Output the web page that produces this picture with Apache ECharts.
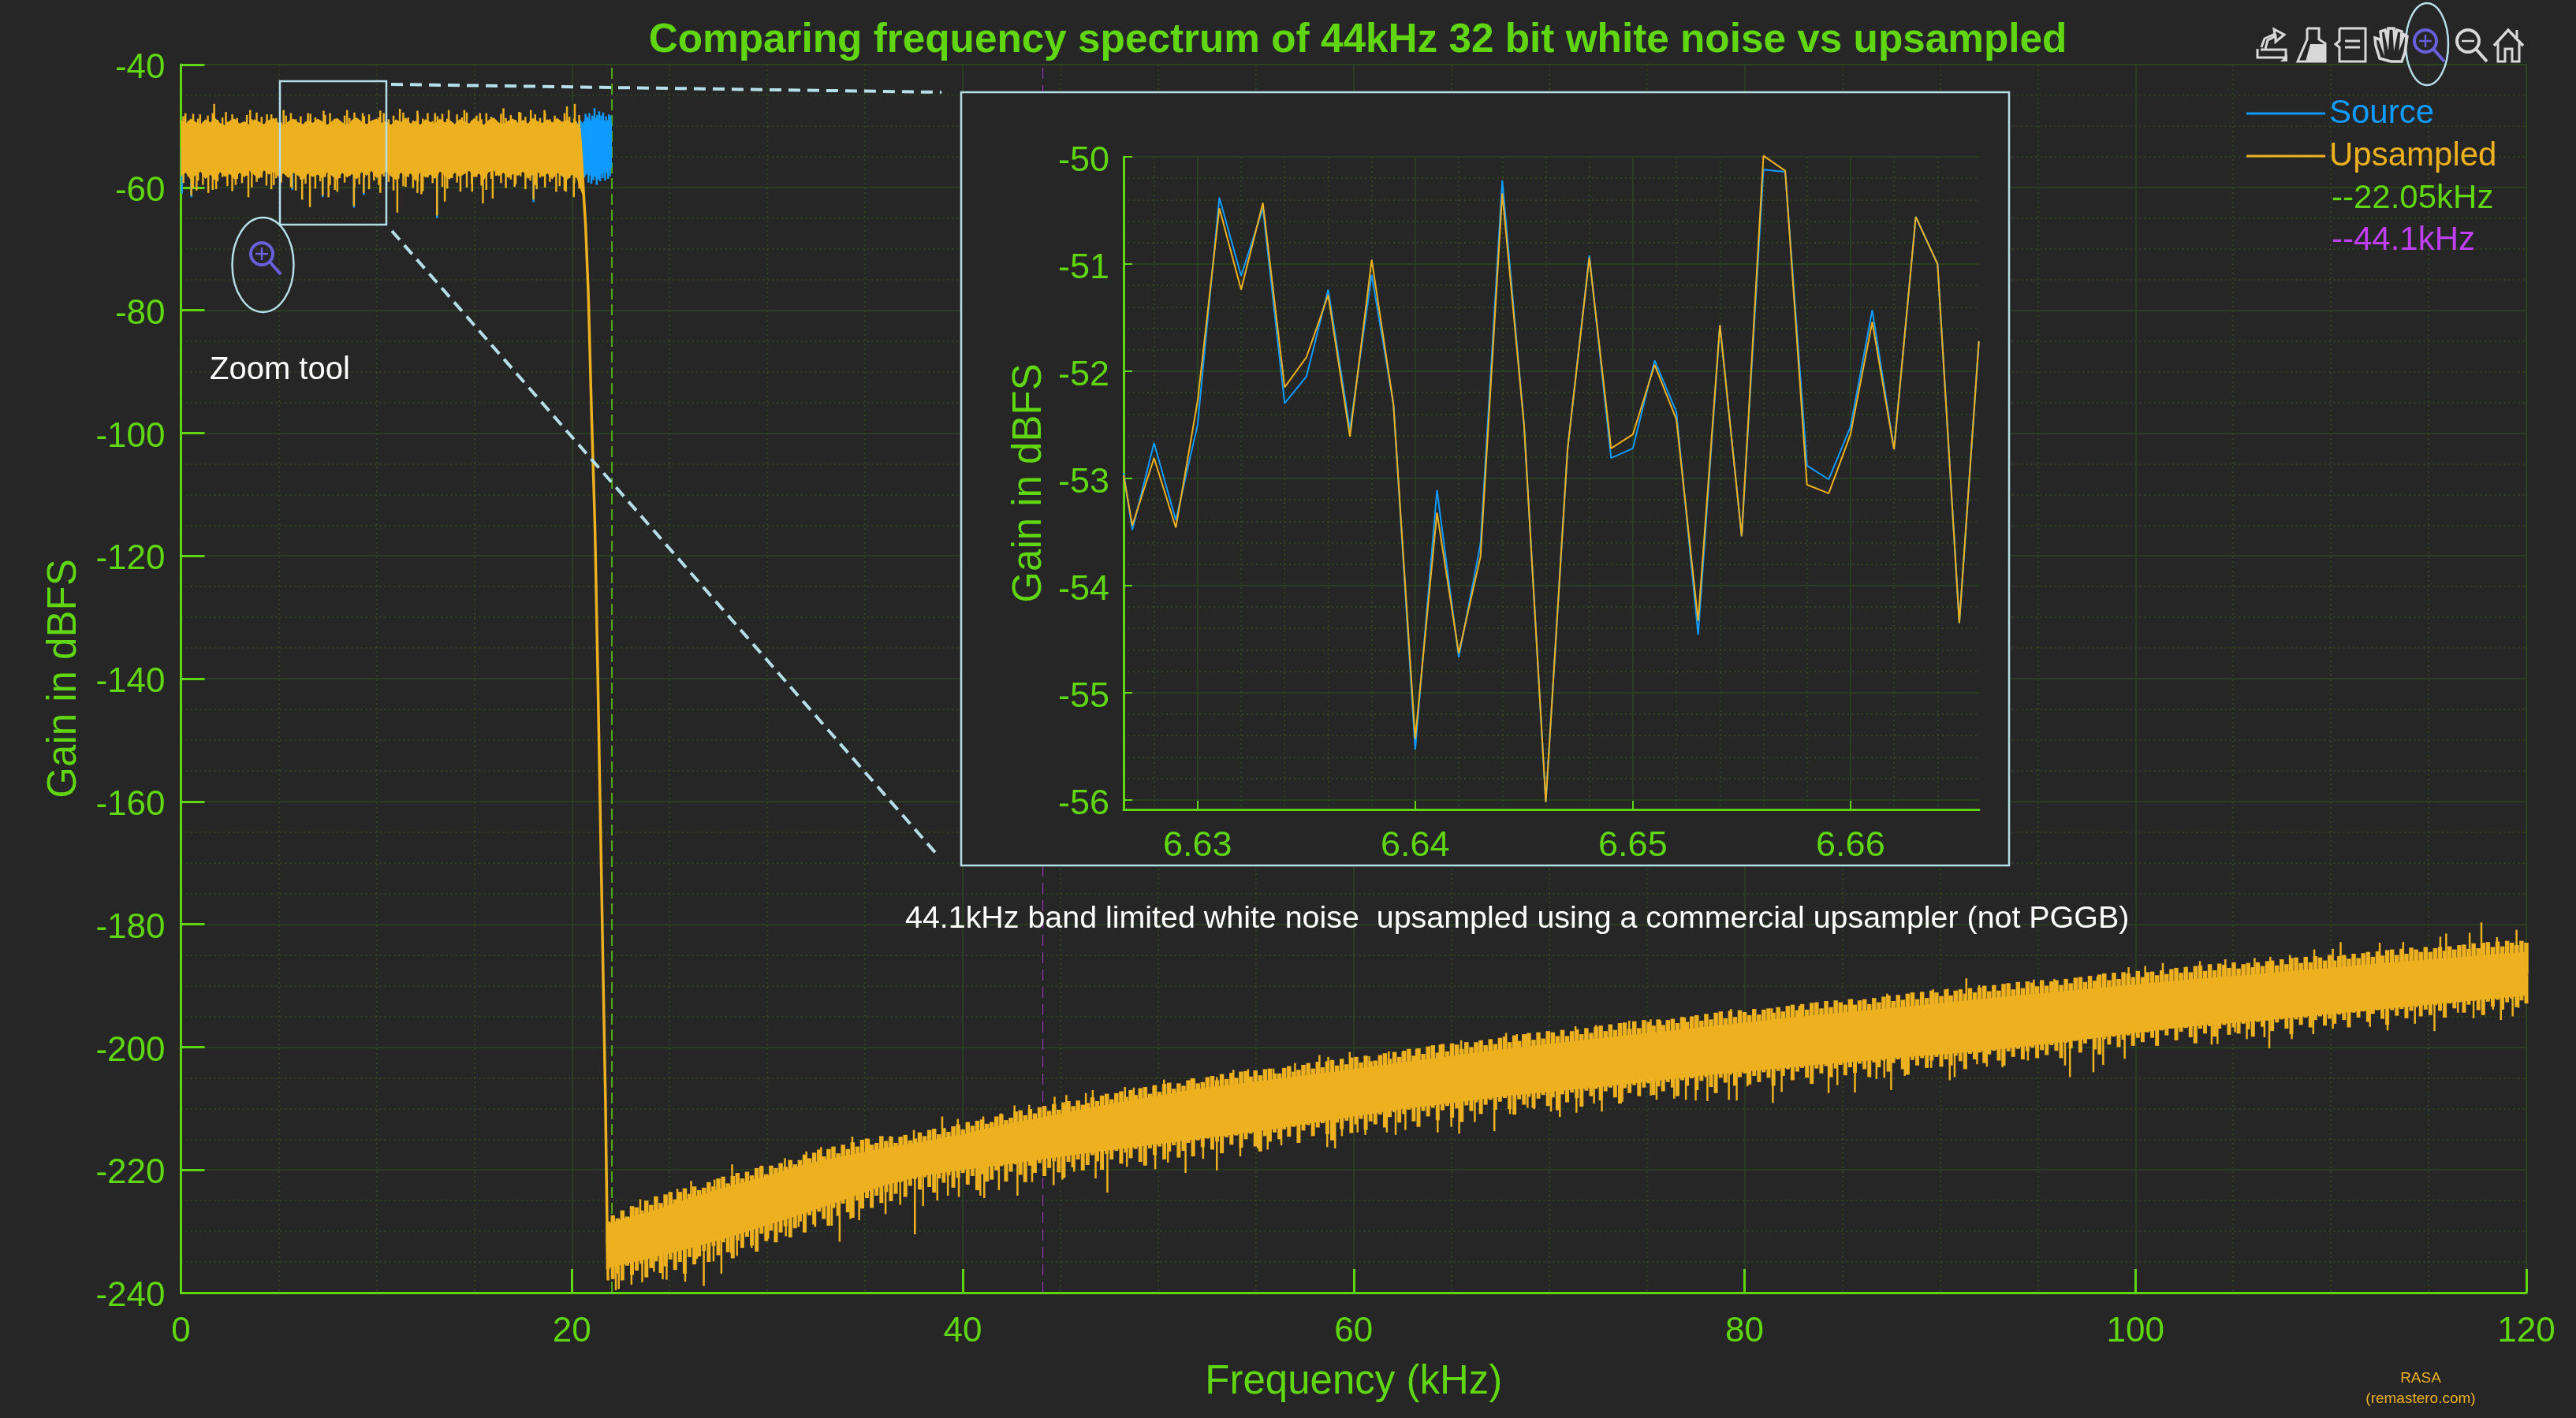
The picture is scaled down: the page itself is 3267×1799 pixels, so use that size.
<!DOCTYPE html>
<html>
<head>
<meta charset="utf-8">
<title>Frequency spectrum</title>
<script src="https://cdn.jsdelivr.net/npm/echarts@6/dist/echarts.min.js"></script>
<style>
html, body { margin: 0; padding: 0; background: #262626; }
#chart { width: 3267px; height: 1799px; }
</style>
</head>
<body>
<div id="chart"></div>
<script>
// flat part of the upsampled noise, edge every 0.25 kHz from 0 kHz
const flatTop = [-49.0,-49.6,-48.8,-49.3,-49.8,-48.9,-49.4,-48.7,-49.5,-49.9,-49.1,-48.8,-49.6,-49.2,-49.8,-48.9,-49.3,-49.7,-49.0,-48.7,-49.5,-49.9,-49.2,-48.8,-49.4,-49.7,-49.0,-49.5,-48.8,-49.3,-49.8,-49.1,-48.7,-49.4,-49.9,-49.0,-48.6,-49.3,-49.7,-49.1,-48.8,-49.5,-49.2,-49.8,-48.9,-49.4,-48.6,-49.6,-49.1,-49.8,-48.9,-49.3,-49.6,-48.8,-49.4,-49.0,-49.7,-48.9,-49.2,-49.6,-48.7,-49.3,-49.8,-49.0,-48.6,-49.4,-49.7,-49.1,-48.8,-49.5,-49.0,-49.6,-48.7,-49.2,-49.5,-48.9,-49.4,-48.7,-49.3,-49.0,-49.5,-49.2];
const flatBottom = [-58.2,-57.6,-58.8,-58.0,-57.4,-58.6,-57.9,-58.9,-57.5,-58.3,-57.8,-58.7,-57.6,-58.4,-57.3,-58.0,-58.6,-57.2,-57.9,-57.4,-58.3,-57.7,-58.5,-57.6,-58.1,-58.8,-57.7,-58.3,-57.9,-58.6,-57.5,-58.2,-58.9,-57.6,-58.4,-57.8,-58.7,-57.5,-58.1,-57.3,-58.5,-57.9,-57.4,-58.2,-58.8,-57.6,-58.3,-57.7,-59.0,-57.5,-58.4,-57.9,-58.6,-57.4,-58.1,-58.7,-57.6,-58.3,-57.8,-57.3,-58.4,-57.7,-58.8,-57.5,-57.2,-58.2,-57.6,-58.5,-57.8,-58.1,-57.4,-58.6,-57.9,-57.5,-58.3,-57.7,-58.7,-57.6,-58.2,-58.8,-57.9,-58.5];
// fine teeth between those edge points, offset by 0.125 kHz
const flatFineTop = [-48.4,-49.2,-48.0,-48.8,-49.4,-48.3,-47.9,-49.0,-48.6,-49.3,-48.1,-48.7,-49.5,-48.2,-48.9,-47.8,-48.5,-49.2,-48.1,-48.7,-49.4,-48.3,-47.9,-48.9,-48.4,-49.3,-48.0,-48.6,-49.1,-48.2,-47.9,-48.8,-49.4,-48.3,-48.7,-47.8,-49.0,-48.4,-48.1,-49.2,-48.6,-47.9,-48.9,-48.3,-49.3,-47.8,-48.6,-49.1,-48.2,-48.8,-47.9,-49.2,-48.4,-48.0,-48.8,-49.4,-48.1,-48.6,-47.8,-49.1,-48.3,-48.9,-47.9,-48.5,-49.3,-48.0,-48.7,-48.2,-49.0,-47.8,-48.5,-49.2,-48.1,-48.7,-47.9,-48.9,-48.3,-49.1,-47.9,-48.5,-48.8,-48.2];
const flatFineBottom = [-59.3,-58.2,-60.1,-58.9,-59.6,-58.4,-60.4,-59.0,-58.3,-59.8,-60.6,-58.6,-59.3,-58.1,-60.0,-59.1,-58.4,-59.7,-60.3,-58.5,-59.2,-58.0,-59.9,-60.5,-58.7,-59.4,-58.2,-60.2,-59.0,-58.3,-59.6,-60.4,-58.5,-59.2,-58.1,-60.0,-59.5,-58.4,-60.3,-58.9,-59.6,-58.2,-59.1,-60.5,-58.6,-59.8,-58.3,-60.1,-59.0,-60.6,-58.4,-59.3,-58.1,-59.9,-60.2,-58.5,-59.2,-58.0,-60.0,-59.4,-58.3,-59.7,-60.4,-58.6,-58.1,-59.3,-60.1,-58.7,-59.5,-58.2,-60.3,-58.9,-59.6,-58.4,-60.0,-59.1,-58.2,-59.8,-60.5,-58.5,-59.3,-60.2];
const flatUpFreq = [0.23,0.98,1.7,2.3,3.54,4.4,5.25,6.5,7.3,8.5,9.3,10.2,11.2,12.1,13,13.7,14.5,15.3,16.5,17.3,17.9,18.6,19.75,20.15];
const flatUpTip = [-47.9,-48.1,-46.4,-47.7,-47.4,-48.1,-47.4,-47.9,-47.5,-47.4,-47.9,-47.5,-47.2,-47.5,-47.9,-47.4,-47.4,-47.9,-47.1,-47.7,-47.4,-47.4,-46.8,-46.4];
const flatLowFreq = [0.53,0.8,1.4,1.8,2.8,3.45,4.75,5.67,6.2,6.6,7.25,7.55,8,8.85,9.35,10.2,11.07,11.5,12.1,12.3,13.1,13.5,14.3,14.9,15.45,15.95,17.07,18.04,18.2,19.2,19.7,20.1];
const flatLowTip = [-61.3,-60.5,-60.9,-60.3,-59.6,-61.6,-59.6,-60.1,-62,-63.2,-61.3,-61.6,-60.7,-63,-60.9,-60.9,-64.1,-59.9,-60.9,-61.1,-64.6,-62.3,-60.7,-60.7,-62.6,-61.8,-59.9,-62,-60.3,-60.7,-60.7,-61.6];

// source noise that shows past the upsampled roll-off, edge every 0.1 kHz from 20.25 kHz
const sourceTop = [-49.8,-49.3,-49.0,-49.6,-48.9,-49.4,-48.8,-49.2,-48.5,-49.1,-48.6,-48.9,-49.3,-48.7,-49.0,-49.4,-48.9,-49.2,-49.6];
const sourceBottom = [-58.2,-57.8,-58.4,-57.9,-58.5,-57.7,-58.3,-57.9,-58.6,-58.0,-58.7,-58.1,-57.5,-58.0,-57.4,-57.8,-57.2,-57.0,-56.8];
const sourceSpikeFreq = [20.7,20.8,20.9,21.05,21.16,21.3,21.4,21.5,21.6,21.75,21.9,21.98,20.85,21.0,21.1,21.27,21.38,21.45,21.58,21.7,21.85,21.95,0.05,0.53,5.7,7.25,8.85,9.35,13.1,18.04];
const sourceSpikeTip = [-48,-48.5,-47.9,-48.3,-47.1,-48.2,-47.6,-48.3,-47.8,-48.4,-48.1,-48.3,-59.2,-59.4,-58.8,-59.6,-58.7,-59,-58.5,-58.9,-58.6,-58.2,-61,-61.6,-60.4,-61.6,-63.3,-61.2,-65,-62.4];

// filter roll-off of the upsampled signal
const rolloffFreq = [20.3,20.38,20.45,20.55,20.62,20.7,20.85,21.0,21.18,21.33,21.5,21.6,21.72,21.8,21.85];
const rolloffGain = [-49.8,-50.4,-53,-58,-62,-66,-78,-96,-115,-140,-170,-188,-209,-228,-238];

// rising noise floor of the upsampled signal: solid core, one edge value every 2 kHz from 22 kHz
const riseCoreTop = [-228.8,-226.8,-224.6,-222.7,-221,-219,-217.7,-216.4,-215.4,-214.2,-212.7,-211.5,-210.2,-209,-207.9,-206.8,-206,-205.2,-204.4,-203.6,-202.7,-201.9,-201,-200.2,-199.5,-198.8,-198.1,-197.4,-196.7,-196,-195.3,-194.7,-194.1,-193.5,-192.9,-192.2,-191.6,-191,-190.4,-189.8,-189.2,-188.7,-188.2,-187.6,-187.1,-186.5,-186,-185.5,-185,-184.5];
const riseCoreBottom = [-236,-234.4,-232.8,-231,-229,-227,-224.8,-222.5,-220.9,-220,-219.2,-218.3,-217.4,-216.6,-215.8,-215,-214.2,-213.3,-212.3,-211.3,-210.3,-209.5,-208.7,-207.9,-207.3,-206.7,-206,-205.3,-204.6,-204,-203.4,-202.8,-202.3,-201.7,-201.2,-200.7,-200,-199.3,-198.5,-197.7,-196.9,-196.3,-195.8,-195.2,-194.6,-194,-193.4,-192.8,-192.2,-191.6];
// jagged teeth of the noise floor, about one value every 0.25 kHz from 21.8 kHz
const riseFineTop = [-228.4,-227.4,-227.9,-226.6,-227.6,-225.9,-226.1,-226.6,-225,-225.7,-224.3,-225.4,-224,-223.6,-224.8,-223.6,-223,-223.9,-222.7,-223.3,
  -222.9,-222,-222.7,-221.4,-221.1,-222.2,-221,-220.5,-221.4,-220.3,-220.9,-219.7,-219.4,-220.7,-219.3,-219.7,-218.9,-219.5,-218.4,-219.1,
  -218.4,-217.5,-218.1,-217.2,-216.7,-217.8,-216.6,-216.2,-217.3,-215.9,-216.6,-215.5,-216.2,-215.1,-214.9,-215.9,-215.6,-214.5,-215.3,-214.6,
  -215.6,-214.6,-214.3,-215.2,-214.9,-213.9,-214.5,-213.5,-213.3,-214.2,-213.2,-213.8,-212.9,-212.6,-213.4,-212.2,-212.8,-212,-211.8,-212.5,
  -212.2,-211.3,-210.9,-211.9,-211.5,-210.5,-210.3,-211.1,-210.1,-210.8,-209.8,-209.6,-210.4,-209.3,-210.2,-209,-208.8,-209.6,-208.7,-209.4,
  -209.1,-208.2,-208.8,-207.9,-207.6,-208.5,-207.5,-207.2,-208.1,-207,-207.8,-206.7,-206.5,-207.6,-206.2,-207.3,-206,-205.8,-206.8,-205.9,
  -206.3,-205.4,-205.1,-205.9,-205.7,-204.9,-204.7,-205.4,-204.4,-205.2,-204.2,-205,-204,-203.9,-204.8,-203.8,-204.6,-203.6,-203.5,-204.3,
  -204.3,-203.4,-203.1,-204,-203.7,-202.9,-202.6,-203.5,-202.4,-203.3,-202.3,-202.1,-203,-201.9,-202.8,-201.7,-201.6,-202.5,-201.4,-202.3,
  -202.2,-201.3,-201,-201.9,-200.8,-201.6,-200.6,-200.3,-201.4,-200.2,-201.1,-199.9,-199.7,-200.9,-199.5,-200.7,-199.4,-199.6,-200.3,-199.2,
  -200,-199.2,-198.9,-199.7,-198.7,-199.5,-198.5,-198.3,-199.2,-198.1,-199,-197.9,-197.7,-198.8,-197.6,-198.6,-197.4,-197.6,-198.2,-197.2,
  -198.2,-197.4,-197.1,-197.9,-196.9,-197.7,-196.7,-196.5,-197.4,-196.3,-197.2,-196.1,-196,-197,-195.8,-196.9,-195.6,-195.9,-196.5,-195.5,
  -196.4,-195.6,-195.4,-196.1,-195.1,-195.9,-195,-194.8,-195.7,-194.6,-195.5,-194.4,-194.2,-195.3,-194.1,-195.1,-194,-194.3,-194.8,-193.8,
  -194.7,-193.9,-193.7,-194.4,-193.5,-194.2,-193.3,-193.1,-194,-193,-193.9,-192.8,-192.7,-193.7,-192.5,-193.5,-192.4,-192.7,-193.1,-192.2,
  -193.1,-192.4,-192.2,-193,-192,-192.7,-191.8,-191.6,-192.5,-191.5,-192.3,-191.3,-191.1,-192.2,-191,-192,-190.8,-191.1,-191.7,-190.6,
  -191.6,-190.8,-190.6,-191.3,-190.4,-191.1,-190.3,-190,-190.9,-189.9,-190.8,-189.7,-189.6,-190.6,-189.4,-190.4,-189.3,-189.5,-190.1,-189.1,
  -190,-189.3,-189.1,-189.9,-188.9,-189.6,-188.7,-188.6,-189.4,-188.4,-189.2,-188.2,-188,-189.1,-187.9,-188.9,-187.8,-188,-188.6,-187.6,
  -188.6,-187.8,-187.7,-188.3,-187.5,-188.1,-187.3,-187.1,-187.9,-187,-187.8,-186.8,-186.7,-187.6,-186.5,-187.5,-186.4,-186.6,-187.1,-186.2,
  -187.2,-186.5,-186.3,-187,-186.2,-186.8,-186,-185.9,-186.7,-185.7,-186.5,-185.5,-185.4,-186.3,-185.3,-186.2,-185.2,-185.4,-185.9,-185,
  -185.9,-185.2,-185,-185.6,-184.8,-185.5,-184.7,-184.5,-185.3,-184.4,-185.1,-184.2,-184.1,-185,-184,-184.8,-183.8,-184.1,-184.5,-183.7,
  -184.5,-183.9,-183.7,-184.3,-183.6,-184.1,-183.4,-183.3,-184,-183.1,-183.9,-183,-182.9,-183.7,-182.8,-183.6,-182.7,-183,-183.4,-182.7,-183];
const riseFineBottom = [-236.2,-237.8,-236.9,-238,-235.6,-237.1,-236.4,-235.3,-237.5,-236,-234.9,-236.8,-235.7,-234.6,-236.3,-235,-236.9,-234.2,-235.4,-234.1,
  -233.2,-235,-232.4,-233.9,-231.8,-233.4,-234.4,-231.5,-232.7,-230.9,-232.3,-233.3,-230.4,-231.6,-229.9,-231.8,-230.2,-229.2,-231,-229.5,
  -228.4,-230.2,-227.4,-228.9,-226.8,-228,-229.1,-226.2,-227.5,-225.5,-226.9,-227.8,-225,-226.3,-224.6,-226.2,-224.2,-225.4,-223.6,-225.1,
  -223.9,-222,-224.4,-222.6,-221.5,-223.2,-221.2,-222.8,-223.7,-221.4,-222.1,-220.9,-222.9,-221.3,-220.5,-222.4,-221,-223.3,-220.7,-221.9,
  -221.6,-220.1,-219.4,-221.9,-220.3,-219.1,-220.8,-222,-219.3,-220.5,-218.9,-221,-219.7,-218.6,-220.4,-221.3,-218.7,-219.6,-218.3,-220.1,
  -219.2,-217.6,-218.6,-220,-217.4,-218.3,-216.9,-219,-217.2,-218.1,-216.6,-218.7,-219.3,-216.5,-217.6,-216.2,-218.3,-217,-216,-218,
  -216.9,-215.6,-217.8,-215.2,-216.3,-214.9,-216.7,-215.4,-217.3,-214.7,-215.9,-214.4,-216.4,-215,-214.1,-216.2,-217,-214.5,-215.4,-213.9,
  -215,-213.4,-214.6,-213,-215.6,-213.6,-212.7,-214.5,-213.1,-212.4,-214.2,-215.2,-212.3,-213.4,-212,-214,-212.6,-211.7,-213.5,-212.1,
  -212.6,-211,-213.1,-211.4,-210.6,-212.3,-210.9,-210.2,-212.1,-213,-210.4,-211.3,-209.9,-211.9,-210.3,-209.6,-211.5,-210,-212.2,-209.5,
  -210.4,-209,-210.9,-209.4,-208.6,-210.2,-208.9,-208.3,-210.1,-211,-208.5,-209.4,-208.1,-209.9,-208.4,-207.8,-209.6,-208.2,-210.3,-207.7,
  -209,-207.4,-208.3,-209.7,-207.1,-208,-206.8,-208.7,-207.2,-206.6,-208.2,-209.2,-206.7,-207.5,-206.2,-208,-206.6,-205.9,-207.8,-206.4,
  -207.2,-205.7,-206.6,-208,-205.4,-206.3,-205.1,-207,-205.5,-204.9,-206.5,-207.5,-205,-205.8,-204.5,-206.3,-204.9,-204.3,-206.1,-204.7,
  -205.7,-204.1,-205,-206.3,-203.9,-204.7,-203.6,-205.4,-204,-203.4,-205,-206,-203.5,-204.3,-203.1,-204.9,-203.5,-202.9,-204.6,-203.3,
  -204.2,-202.7,-203.6,-204.9,-202.5,-203.3,-202.2,-204,-202.6,-202,-203.6,-204.5,-202.1,-203,-201.8,-203.4,-202.2,-201.6,-203.2,-202,
  -203,-201.4,-202.3,-203.6,-201.1,-202,-200.9,-202.6,-201.2,-200.6,-202.2,-203,-200.7,-201.6,-200.3,-202,-200.7,-200.1,-201.8,-200.5,
  -201.3,-199.7,-200.6,-201.8,-199.3,-200.2,-199,-200.9,-199.4,-198.7,-200.4,-201.2,-198.7,-199.6,-198.3,-200,-198.8,-198.1,-199.8,-198.5,
  -199.2,-197.6,-198.5,-199.8,-197.3,-198.1,-197,-198.9,-197.5,-196.9,-198.4,-199.4,-197,-197.8,-196.6,-198.3,-197,-196.4,-198,-196.8,
  -197.8,-196.2,-197.1,-198.3,-195.9,-196.7,-195.7,-197.4,-196,-195.5,-197,-197.9,-195.5,-196.4,-195.2,-196.8,-195.6,-195,-196.5,-195.4,
  -196.2,-194.7,-195.6,-196.8,-194.4,-195.2,-194.2,-195.9,-194.6,-194,-195.4,-196.4,-194,-194.9,-193.8,-195.3,-194.1,-193.5,-195,-193.9,
  -194.8,-193.2,-194.1,-195.2,-192.9,-193.7,-192.7,-194.4,-193.1,-192.5,-194,-194.8,-192.6,-193.4,-192.3,-193.9,-192.7,-192.1,-193.5,-192.4,-192.9];
// single tall spikes
const riseUpFreq = [23.15,23.5,25.4,26.1,27.3,28.2,29.7,30.9,32,32.75,34.35,35.2,36.3,37.5,38.95,39.75,41.05,41.95,42.65,43.4,44.7,45.3,46.3,46.65,48.3,48.75,49.75,50.3,51.7,53,53.85,54.6,55.9,57,58.25,58.7,59.8,60.8,61.8,62.5,63.2,64.4,65.5,66.45,67.8,68.35,68.85,70.2,71.35,72.4,74.1,75.2,75.7,76.95,79.3,81.4,82.8,85.5,87.3,89.65,90.4,91.35,92,93.5,94.8,95.85,98.05,99.65,100.5,101.4,102.6,103.3,104.6,106.1,106.9,107.9,109.15,110.1,110.5,112.5,113.7,115.6,115.9,117.1,117.7,118.5,119.5];
const riseUpTip = [-226.1,-224.8,-223.1,-221.8,-221.6,-219.1,-219.3,-218.1,-217,-216.3,-214.6,-215,-214.5,-213.5,-211.3,-211.7,-211.3,-210.8,-209.5,-209.4,-208.1,-207.8,-207.5,-207,-206.5,-206.6,-206.4,-205.3,-205.1,-204.9,-203.7,-203.6,-203.5,-202.6,-201.3,-201.6,-200.8,-201.5,-200.7,-200.8,-200.3,-199.6,-198.9,-199.4,-197.7,-197.9,-197.9,-197.7,-196.6,-196.4,-195.7,-195.5,-195.7,-195.2,-193.8,-193.7,-193.3,-192.2,-191.3,-190.6,-190.5,-188.8,-189.9,-189.6,-189,-188.9,-188.5,-187,-186.8,-186.3,-186.9,-186,-185.7,-185.5,-185.3,-185,-184.1,-184,-182.9,-183,-182.9,-182,-181.5,-181.4,-179.7,-182.1,-180.9];
const riseLowFreq = [22.25,22.4,23.05,23.6,24.2,24.65,24.85,25.3,25.8,26.4,26.75,27.25,27.65,28.15,28.45,29.2,30.05,30.95,31.6,32.45,33.3,33.7,34.25,34.7,36.05,36.8,37.55,37.97,38.7,39.24,39.8,40.9,41.1,41.85,42.8,43.55,44.65,45.1,45.7,46.8,47.4,48.4,49.1,49.85,50.5,51.4,52.3,53,54.2,55.1,55.6,56.3,57.2,58.65,59.05,59.4,60.2,60.6,61.7,62.15,62.65,64.3,65,65.4,66.2,67.2,68,68.9,69.24,70.1,70.55,71.4,72.3,72.7,73.75,75.2,75.5,76.4,77,77.5,78.1,79.2,79.6,80.15,81.45,81.9,84.3,84.75,85.65,86.75,87.15,87.5,88.2,89.55,90.5,90.75,91.9,92.4,93.2,94.5,96.4,96.65,97.85,98.35,99.45,103.9,104.2,105.1,105.7,106.6,106.85,108,109.1,110.1,112,112.9,114.3,115.3,116.5,117.3,118.3,118.7,119.3,119.6,120];
const riseLowTip = [-239.6,-239.4,-238.7,-238.3,-236.6,-237.8,-237.9,-236,-238.2,-234.5,-238.9,-234.9,-236.9,-233.6,-234,-232.7,-231.2,-230.8,-229.3,-229.3,-229.1,-231.7,-228,-228.2,-227.2,-225.7,-230.5,-225.9,-225,-224.2,-224.4,-224.2,-224.6,-223.3,-224.2,-222,-222.5,-221.6,-220.3,-221.4,-223.7,-219.5,-218.6,-219.9,-218.8,-220.5,-218.2,-220.1,-217.8,-216.5,-216.7,-216,-215.6,-216.3,-216.5,-214.5,-213.9,-214.3,-213.9,-214.3,-213.5,-213.9,-213,-214.1,-212.2,-213.7,-210.9,-209.9,-210.1,-210.5,-211.4,-210.7,-209.2,-210.5,-208.9,-207.9,-208.6,-208.4,-208.6,-208.7,-208.8,-208.6,-208.7,-206.4,-209.1,-207.3,-207.5,-206.2,-207.4,-205.2,-205,-207,-204.7,-203.4,-205.4,-204.9,-202.8,-203.2,-203.3,-202.2,-203,-204.9,-204.1,-202.9,-201.9,-199.6,-199.5,-197.6,-198.7,-198.4,-200.2,-198.7,-197.9,-197,-196.7,-197.3,-196.2,-197.4,-194.4,-195.3,-193.9,-195.6,-195,-193.6,-192.9];

// band edges marked on the spectrum
const cutoffA = 22.05;
const cutoffB = 44.1;
const gainRange = [-240, -40];

// zoomed inset, both traces
const insetFreq = [6.6266,6.627,6.628,6.629,6.63,6.631,6.632,6.633,6.634,6.635,6.636,6.637,6.638,6.639,6.64,6.641,6.642,6.643,6.644,6.645,6.646,6.647,6.648,6.649,6.65,6.651,6.652,6.653,6.654,6.655,6.656,6.657,6.658,6.659,6.66,6.661,6.662,6.663,6.664,6.665,6.6659];
const insetUpsampled = [-52.97,-53.44,-52.81,-53.46,-52.28,-50.48,-51.24,-50.43,-52.15,-51.87,-51.29,-52.61,-50.96,-52.31,-55.43,-53.32,-54.63,-53.73,-50.34,-52.5,-56.02,-52.73,-50.94,-52.72,-52.59,-51.94,-52.45,-54.33,-51.57,-53.54,-49.99,-50.13,-53.06,-53.14,-52.59,-51.54,-52.73,-50.56,-51,-54.35,-51.72];
const insetSource = [-52.95,-53.48,-52.67,-53.39,-52.5,-50.38,-51.11,-50.48,-52.3,-52.05,-51.24,-52.54,-51.1,-52.31,-55.53,-53.11,-54.67,-53.61,-50.22,-52.5,-56.02,-52.73,-50.92,-52.81,-52.72,-51.9,-52.38,-54.46,-51.57,-53.54,-50.12,-50.14,-52.88,-53.01,-52.52,-51.43,-52.73,-50.56,-51,-54.35,-51.72];
const insetXTicks = [6.63, 6.64, 6.65, 6.66];
const insetYTicks = [-56, -55, -54, -53, -52, -51, -50];
const insetXMinor = [6.628,6.632,6.634,6.636,6.638,6.642,6.644,6.646,6.648,6.652,6.654,6.656,6.658,6.662,6.664];
const insetYMinor = [-55.8,-55.6,-55.4,-55.2,-54.8,-54.6,-54.4,-54.2,-53.8,-53.6,-53.4,-53.2,-52.8,-52.6,-52.4,-52.2,-51.8,-51.6,-51.4,-51.2,-50.8,-50.6,-50.4,-50.2];

const GREEN = '#5fd60f';
const BLUE = '#0f9bff';
const ORANGE = '#edb120';
const PURPLE = '#bf40f2';
const CALLOUT = '#b5dfe8';
const GRID_MAJOR = '#2c4420';
const GRID_MINOR = '#344d20';
const FONT = '"Liberation Sans", Arial, sans-serif';

function zip(xs, ys) {
    return xs.map((x, i) => [x, ys[i]]);
}

// filled band between two edges, drawn through the axes
function bandSeries(name, color, z, upper, lower) {
    return {
        name: name,
        type: 'custom',
        coordinateSystem: 'cartesian2d',
        xAxisIndex: 0,
        yAxisIndex: 0,
        z: z,
        silent: true,
        data: [upper[0]],
        renderItem: function(params, api) {
            const pts = upper.concat(lower.slice().reverse()).map(p => api.coord(p));
            return { type: 'polygon', shape: { points: pts }, style: { fill: color } };
        }
    };
}

// vertical spikes from the band out to each tip
function spikeSeries(name, color, z, freq, tips, baseAt, width) {
    return {
        name: name,
        type: 'custom',
        coordinateSystem: 'cartesian2d',
        xAxisIndex: 0,
        yAxisIndex: 0,
        z: z,
        silent: true,
        data: zip(freq, tips),
        renderItem: function(params, api) {
            const f = api.value(0);
            const a = api.coord([f, api.value(1)]);
            const b = api.coord([f, baseAt(f)]);
            return {
                type: 'line',
                shape: { x1: a[0], y1: a[1], x2: b[0], y2: b[1] },
                style: { stroke: color, lineWidth: width }
            };
        }
    };
}

const riseMid = f => {
    const i = Math.max(0, Math.min(riseCoreTop.length - 1, Math.round((f - 22) / 2)));
    return (riseCoreTop[i] + riseCoreBottom[i]) / 2;
};
const flatMid = () => -53.5;

const flatFreq = flatTop.map((v, i) => i * 0.25);
const flatFineFreq = flatFineTop.map((v, i) => 0.125 + i * 0.25);
const sourceFreq = sourceTop.map((v, i) => 20.25 + i * 0.1);
const riseCoreFreq = riseCoreTop.map((v, i) => (i === 0 ? 21.8 : 22 + i * 2));
const riseFineFreq = riseFineTop.map((v, i) => 21.85 + i * (120 - 21.85) / (riseFineTop.length - 1));
const riseFineLowFreq = riseFineBottom.map((v, i) => 21.85 + i * (120 - 21.85) / (riseFineBottom.length - 1));

// the right side of the flat band follows the start of the roll-off
const flatUpper = zip(flatFreq, flatTop).concat(zip(rolloffFreq, rolloffGain).slice(0, 5));
const flatLower = zip(flatFreq, flatBottom);

function cartesianAxis(opt) {
    return Object.assign({
        type: 'value',
        axisLine: { show: true, onZero: false, lineStyle: { color: GREEN, width: 3 } },
        axisTick: { show: true, inside: true, length: 30, lineStyle: { color: GREEN, width: 3 } },
        axisLabel: { color: GREEN, fontSize: 44, fontFamily: FONT, margin: 20 },
        splitLine: { show: true, lineStyle: { color: GRID_MAJOR, width: 1.5 } },
        minorTick: { show: false, splitNumber: 4 },
        minorSplitLine: { show: true, lineStyle: { color: GRID_MINOR, width: 1.5, type: [2, 4] } },
        nameLocation: 'middle',
        nameTextStyle: { color: GREEN, fontSize: 51, fontFamily: FONT }
    }, opt);
}

// inset axes use explicit tick lists since the range does not start on a tick
function insetAxis(opt, ticks, labelOpt) {
    return Object.assign({
        type: 'value',
        gridIndex: 1,
        z: 5,
        axisLine: { show: true, onZero: false, lineStyle: { color: GREEN, width: 3 } },
        axisTick: { show: true, inside: true, length: 11, customValues: ticks, lineStyle: { color: GREEN, width: 2 } },
        axisLabel: Object.assign({ color: GREEN, fontSize: 45, fontFamily: FONT, customValues: ticks }, labelOpt),
        splitLine: { show: true, lineStyle: { color: GRID_MAJOR, width: 1.5 } },
        nameLocation: 'middle',
        nameTextStyle: { color: GREEN, fontSize: 51, fontFamily: FONT }
    }, opt);
}

// axis that only carries the dotted minor lines of the inset
function insetMinorAxis(opt, ticks) {
    return Object.assign({
        type: 'value',
        gridIndex: 1,
        z: 5,
        axisLine: { show: false },
        axisTick: { show: false, customValues: ticks },
        axisLabel: { show: false, customValues: ticks },
        splitLine: { show: true, lineStyle: { color: GRID_MINOR, width: 1.5, type: [2, 4] } }
    }, opt);
}

const insetX = { min: 6.6266, max: 6.66591 };
const insetY = { min: -56.09, max: -50 };

function textEl(text, x, y, size, color, extra) {
    return {
        type: 'text', z: 10, silent: true, x: x, y: y,
        style: Object.assign({ text: text, fill: color, fontSize: size, fontFamily: FONT, verticalAlign: 'middle', align: 'left' }, extra || {})
    };
}

function lineEl(x1, y1, x2, y2, color, width, dash) {
    return {
        type: 'line', z: 10, silent: true,
        shape: { x1: x1, y1: y1, x2: x2, y2: y2 },
        style: { stroke: color, lineWidth: width, lineDash: dash || null }
    };
}

function polyEl(points, color, width, fill) {
    return {
        type: fill ? 'polygon' : 'polyline', z: 10, silent: true,
        shape: { points: points },
        style: fill ? { fill: color } : { stroke: color, lineWidth: width, fill: 'none' }
    };
}

function circleEl(cx, cy, r, color, width) {
    return {
        type: 'circle', z: 10, silent: true,
        shape: { cx: cx, cy: cy, r: r },
        style: { stroke: color, lineWidth: width, fill: 'none' }
    };
}

function ellipseEl(cx, cy, rx, ry) {
    return {
        type: 'ellipse', z: 10, silent: true,
        shape: { cx: cx, cy: cy, rx: rx, ry: ry },
        style: { stroke: CALLOUT, lineWidth: 2.5, fill: 'none' }
    };
}

// magnifier with a plus or minus inside
function magnifier(cx, cy, color, plus) {
    const items = [
        circleEl(cx, cy, 14, color, 4),
        lineEl(cx + 10, cy + 10, cx + 24, cy + 26, color, 4),
        lineEl(cx - 8, cy, cx + 8, cy, color, 2.5)
    ];
    if (plus) items.push(lineEl(cx, cy - 8, cx, cy + 8, color, 2.5));
    return items;
}

// figure toolbar in the top right corner
const ICON = '#d8d8d8';
const toolbar = [].concat(
    // export
    [polyEl([[2863, 62], [2863, 73], [2899, 73], [2899, 63], [2867, 63]], ICON, 3),
     polyEl([[2873, 62], [2876, 51], [2886, 46], [2886, 53], [2897, 44], [2884, 37], [2885, 43], [2872, 49], [2868, 60]], ICON, 3),
     polyEl([[2892, 78], [2901, 78], [2901, 69]], ICON, 0, true)],
    // brush
    [polyEl([[2926, 36], [2926, 50], [2914, 78], [2949, 78], [2949, 55], [2941, 50], [2941, 36], [2926, 36]], ICON, 3),
     polyEl([[2930, 56], [2949, 56], [2949, 78], [2924, 78]], ICON, 0, true)],
    // legend sheet
    [polyEl([[2967, 36], [3000, 36], [3000, 78], [2967, 78], [2967, 60], [2962, 56], [2967, 52], [2967, 36]], ICON, 3),
     lineEl(2974, 52, 2993, 52, ICON, 3),
     lineEl(2974, 60, 2993, 60, ICON, 3)],
    // pan hand
    [polyEl([[3032, 78], [3018, 74], [3013, 58], [3012, 48], [3018, 50], [3021, 58], [3019, 40], [3025, 38], [3028, 52], [3029, 36], [3036, 36], [3037, 52], [3040, 38], [3046, 40], [3045, 54], [3049, 44], [3053, 46], [3050, 66], [3046, 78], [3032, 78]], ICON, 3.5)],
    magnifier(3076, 52, '#6a5fdb', true),
    magnifier(3130, 52, ICON, false),
    // home
    [polyEl([[3163, 58], [3181, 38], [3200, 58]], ICON, 3.5),
     polyEl([[3168, 54], [3168, 78], [3177, 78], [3177, 62], [3186, 62], [3186, 78], [3195, 78], [3195, 54]], ICON, 3),
     lineEl(3192, 38, 3192, 48, ICON, 3)]
);

const overlays = [
    // frame behind the inset, hides the main plot
    {
        type: 'rect', z: 3, silent: true,
        shape: { x: 1219, y: 117, width: 1329, height: 981 },
        style: { fill: '#262626', stroke: CALLOUT, lineWidth: 2.5 }
    },
    {
        type: 'rect', z: 10, silent: true,
        shape: { x: 355, y: 103, width: 135, height: 182 },
        style: { fill: 'none', stroke: CALLOUT, lineWidth: 2.5 }
    },
    lineEl(496, 107, 1194, 117, CALLOUT, 4, [15, 9]),
    lineEl(497, 293, 1190, 1086, CALLOUT, 4, [15, 9]),
    ellipseEl(333.5, 336, 39, 60),
    ellipseEl(3078, 56, 27, 52),
    textEl('Zoom tool', 266, 470, 40, '#ffffff'),
    textEl('44.1kHz band limited white noise  upsampled using a commercial upsampler (not PGGB)', 1148, 1166, 39.4, '#ffffff'),
    textEl('--22.05kHz', 2957, 252, 42, GREEN),
    textEl('--44.1kHz', 2957, 305, 42, PURPLE),
    textEl('RASA', 3070, 1749, 19, ORANGE, { align: 'center' }),
    textEl('(remastero.com)', 3070, 1775, 19, ORANGE, { align: 'center' })
].concat(magnifier(332, 322, '#6a5fdb', true), toolbar);

const chart = echarts.init(document.getElementById('chart'));
chart.setOption({
    backgroundColor: '#262626',
    animation: false,
    title: {
        text: 'Comparing frequency spectrum of 44kHz 32 bit white noise vs upsampled',
        left: 1717,
        top: 21,
        textAlign: 'center',
        textStyle: { color: GREEN, fontSize: 51.3, fontWeight: 'bold', fontFamily: FONT }
    },
    legend: {
        orient: 'vertical',
        left: 2849,
        top: 123,
        padding: 0,
        itemWidth: 100,
        itemHeight: 3,
        itemGap: 12,
        selectedMode: false,
        textStyle: { fontSize: 42, fontFamily: FONT },
        data: [
            { name: 'Source', icon: 'rect', itemStyle: { color: BLUE }, textStyle: { color: BLUE } },
            { name: 'Upsampled', icon: 'rect', itemStyle: { color: ORANGE }, textStyle: { color: ORANGE } }
        ]
    },
    grid: [
        { left: 229.5, right: 63, top: 82, bottom: 159, show: true, borderColor: GRID_MAJOR, borderWidth: 2, backgroundColor: 'transparent' },
        { left: 1425, width: 1085, top: 199, height: 828 }
    ],
    xAxis: [
        cartesianAxis({ min: 0, max: 120, interval: 20, name: 'Frequency (kHz)', nameGap: 88, axisLabel: { color: GREEN, fontSize: 44, fontFamily: FONT, margin: 28 } }),
        insetAxis(Object.assign({ name: '' }, insetX), insetXTicks, { margin: 24 }),
        insetMinorAxis(Object.assign({}, insetX), insetXMinor)
    ],
    yAxis: [
        cartesianAxis({ min: gainRange[0], max: gainRange[1], interval: 20, name: 'Gain in dBFS', nameGap: 122, axisLabel: { color: GREEN, fontSize: 44, fontFamily: FONT, margin: 20, verticalAlign: 'top', lineHeight: 10 } }),
        insetAxis(Object.assign({ name: 'Gain in dBFS', nameGap: 94 }, insetY), insetYTicks, { margin: 18, verticalAlign: 'top', lineHeight: 12 }),
        insetMinorAxis(Object.assign({}, insetY), insetYMinor)
    ],
    graphic: { elements: overlays },
    series: [
        // band edges
        {
            name: '22.05kHz', type: 'line', xAxisIndex: 0, yAxisIndex: 0, z: 1, silent: true, showSymbol: false,
            data: gainRange.map(g => [cutoffA, g]),
            lineStyle: { color: GREEN, width: 1.5, type: [14, 6] }
        },
        {
            name: '44.1kHz', type: 'line', xAxisIndex: 0, yAxisIndex: 0, z: 1, silent: true, showSymbol: false,
            data: gainRange.map(g => [cutoffB, g]),
            lineStyle: { color: PURPLE, width: 1, opacity: 0.8, type: [14, 8] }
        },
        // source first so that the upsampled trace sits on top
        bandSeries('Source', BLUE, 2, zip(sourceFreq, sourceTop), zip(sourceFreq, sourceBottom)),
        spikeSeries('Source', BLUE, 2, sourceSpikeFreq, sourceSpikeTip, flatMid, 2.5),
        spikeSeries('Upsampled', ORANGE, 2, flatUpFreq, flatUpTip, flatMid, 2.5),
        spikeSeries('Upsampled', ORANGE, 2, flatLowFreq, flatLowTip, flatMid, 2.5),
        spikeSeries('Upsampled', ORANGE, 2, flatFineFreq, flatFineTop, flatMid, 2.5),
        spikeSeries('Upsampled', ORANGE, 2, flatFineFreq, flatFineBottom, flatMid, 2.5),
        bandSeries('Upsampled', ORANGE, 2, flatUpper, flatLower),
        {
            name: 'Upsampled', type: 'line', xAxisIndex: 0, yAxisIndex: 0, z: 2, silent: true, showSymbol: false,
            data: zip(rolloffFreq, rolloffGain),
            lineStyle: { color: ORANGE, width: 3.5 }
        },
        bandSeries('Upsampled', ORANGE, 2, zip(riseCoreFreq, riseCoreTop), zip(riseCoreFreq, riseCoreBottom)),
        spikeSeries('Upsampled', ORANGE, 2, riseFineFreq, riseFineTop, riseMid, 5.5),
        spikeSeries('Upsampled', ORANGE, 2, riseFineLowFreq, riseFineBottom, riseMid, 5),
        spikeSeries('Upsampled', ORANGE, 2, riseUpFreq, riseUpTip, riseMid, 2.5),
        spikeSeries('Upsampled', ORANGE, 2, riseLowFreq, riseLowTip, riseMid, 2.5),
        // inset traces
        {
            name: 'Source', type: 'line', xAxisIndex: 1, yAxisIndex: 1, z: 6, silent: true, showSymbol: false, clip: false,
            data: zip(insetFreq, insetSource),
            lineStyle: { color: BLUE, width: 2 }
        },
        {
            name: 'Upsampled', type: 'line', xAxisIndex: 1, yAxisIndex: 1, z: 6, silent: true, showSymbol: false, clip: false,
            data: zip(insetFreq, insetUpsampled),
            lineStyle: { color: ORANGE, width: 2 }
        }
    ]
});
</script>
</body>
</html>
